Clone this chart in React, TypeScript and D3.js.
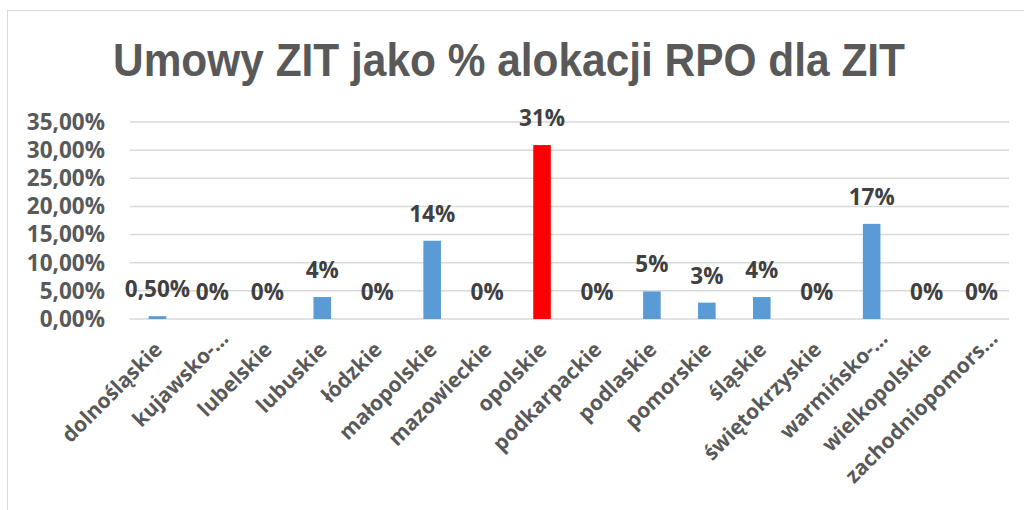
import React from "react";
import * as d3 from "d3";

const categories = [
  "dolnośląskie",
  "kujawsko-…",
  "lubelskie",
  "lubuskie",
  "łódzkie",
  "małopolskie",
  "mazowieckie",
  "opolskie",
  "podkarpackie",
  "podlaskie",
  "pomorskie",
  "śląskie",
  "świętokrzyskie",
  "warmińsko-…",
  "wielkopolskie",
  "zachodniopomors…",
];
const values = [0.005, 0, 0, 0.039, 0, 0.139, 0, 0.309, 0, 0.049, 0.029, 0.039, 0, 0.169, 0, 0];
const valueLabels = ["0,50%", "0%", "0%", "4%", "0%", "14%", "0%", "31%", "0%", "5%", "3%", "4%", "0%", "17%", "0%", "0%"];
const highlighted = ["opolskie"];
const yTicks = [0, 0.05, 0.1, 0.15, 0.2, 0.25, 0.3, 0.35];
const title = "Umowy ZIT jako % alokacji RPO dla ZIT";

const W = 1024;
const H = 510;
const plot = { left: 130, right: 1009, top: 122, bottom: 319 };
const FONT = "'Open Sans', 'DejaVu Sans', sans-serif";

export default function App() {
  const x = d3
    .scaleBand<string>()
    .domain(categories)
    .range([plot.left, plot.right])
    .paddingInner(0.68)
    .paddingOuter(0.34);
  const y = d3.scaleLinear().domain([0, 0.35]).range([plot.bottom, plot.top]);
  const fmt = (v: number) => (v * 100).toFixed(2).replace(".", ",") + "%";

  return (
    <svg
      width={W}
      height={H}
      style={{ position: "absolute", left: 0, top: 0, background: "#fff" }}
    >
      <rect x={0} y={0} width={W} height={H} fill="#fff" />
      <rect x={7.5} y={10.5} width={1200} height={700} fill="none" stroke="#d9d9d9" strokeWidth={1} />
      <text
        x={113}
        y={76}
        fontFamily="'Liberation Sans Narrow', 'Liberation Sans', sans-serif"
        fontWeight={700}
        fontSize={46}
        fill="#595959"
        textLength={792}
        lengthAdjust="spacingAndGlyphs"
      >
        {title}
      </text>
      {yTicks.map((t) => (
        <g key={t}>
          <line
            x1={plot.left}
            x2={plot.right}
            y1={y(t)}
            y2={y(t)}
            stroke="#d9d9d9"
            strokeWidth={1.5}
          />
          <text
            x={105}
            y={y(t)}
            dy="0.35em"
            textAnchor="end"
            fontFamily={FONT}
            fontWeight={700}
            fontSize={22.5}
            fill="#595959"
          >
            {fmt(t)}
          </text>
        </g>
      ))}
      {categories.map((c, i) => {
        const bx = x(c)!;
        const cx = bx + x.bandwidth() / 2;
        const v = values[i];
        const truncated = c.endsWith("…");
        const shift = truncated ? 16 : 0;
        const ax = cx + 6 + shift * 0.707;
        const ay = plot.bottom + 32 - shift * 0.707;
        return (
          <g key={c}>
            {v > 0 && (
              <rect
                x={bx}
                y={y(v)}
                width={x.bandwidth()}
                height={y(0) - y(v)}
                fill={highlighted.includes(c) ? "#ff0000" : "#5b9bd5"}
              />
            )}
            <text
              x={cx}
              y={y(v) - 19}
              textAnchor="middle"
              fontFamily={FONT}
              fontWeight={700}
              fontSize={22.5}
              fill="#404040"
            >
              {valueLabels[i]}
            </text>
            <text
              transform={`translate(${ax},${ay}) rotate(-45)`}
              textAnchor="end"
              fontFamily={FONT}
              fontWeight={700}
              fontSize={21}
              fill="#595959"
            >
              {c}
            </text>
          </g>
        );
      })}
    </svg>
  );
}
